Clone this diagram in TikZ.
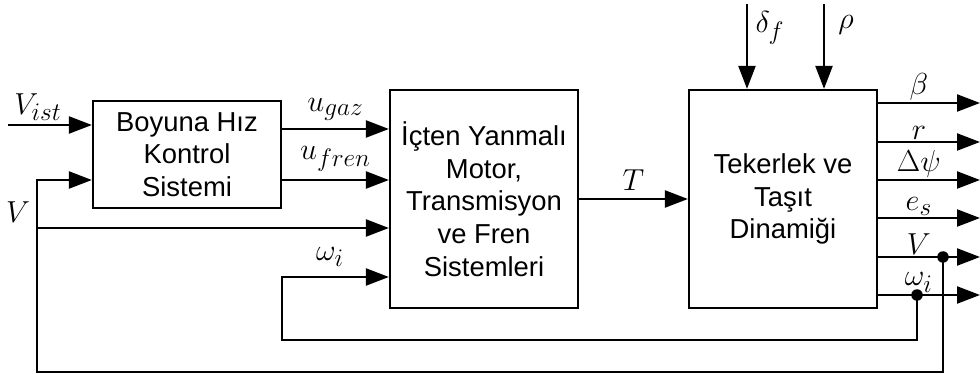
\documentclass[tikz,border=0pt]{standalone}
\usepackage{fontspec}
\setmainfont{Liberation Sans}
\usetikzlibrary{arrows.meta}

\begin{document}
\begin{tikzpicture}[x=0.02cm,y=-0.02cm,line width=1.3pt,
  b/.style={draw,minimum width=3.76cm,align=center,inner sep=0pt,font=\fontsize{15.6}{18.6}\selectfont},
  arr/.style={-{Triangle[length=0.46cm,width=0.34cm]}},
  lab/.style={font=\fontsize{19}{19}\selectfont,inner sep=1pt},
  dot/.style={circle,fill,inner sep=0pt,minimum size=0.23cm}]
\useasboundingbox (0,0) rectangle (980,374);
\node[b,minimum height=2.14cm] (ctrl) at (187,154.5) {Boyuna Hız\\Kontrol\\Sistemi};
\node[b,minimum height=4.36cm] (eng) at (484,199) {İçten Yanmalı\\Motor,\\Transmisyon\\ve Fren\\Sistemleri};
\node[b,minimum height=4.36cm] (veh) at (783,199) {Tekerlek ve\\Taşıt\\Dinamiği};
% inputs
\coordinate (vin) at (8,125);
\coordinate (din) at (747,4);
\coordinate (rin) at (824,4);
\draw[arr] (vin) -- (ctrl.west |- vin);
\node[lab] (lvist) at (38,107) {$V_{ist}$};
\draw[arr] (din) -- (veh.north -| din);
\node[lab] (ldelta) at (770,28) {$\delta_f$};
\draw[arr] (rin) -- (veh.north -| rin);
\node[lab] (lrho) at (846,25) {$\rho$};
% controller -> engine -> vehicle
\draw[arr] (ctrl.east |- 0,129) -- (eng.west |- 0,129) node[lab,midway,above=3pt] (lgaz) {$u_{gaz}$};
\draw[arr] (ctrl.east |- 0,180) -- (eng.west |- 0,180) node[lab,midway,above=3pt] (lfren) {$u_{fren}$};
\draw[arr] (eng.east) -- (veh.west) node[lab,midway,above=3pt] (lT) {$T$};
% outputs
\foreach \y/\lbl [count=\i] in {103/\beta,142/r,180/\Delta\psi,218/e_s,257/V,295/\omega_i}{
  \coordinate (o\i) at (980,\y);
  \draw[arr] (veh.east |- o\i) -- (o\i) node[lab,pos=0.4,above] (lo\i) {$\lbl$};
}
% feedback
\node[dot] (dv) at (943,257) {};
\node[dot] (dw) at (917,295) {};
\coordinate (vloop) at (37,372);
\coordinate (wloop) at (282,340);
\draw[arr] (dv.center) |- (vloop) |- (ctrl.west |- 0,180);
\draw[arr] (vloop |- 0,228) -- (eng.west |- 0,228);
\node[lab] (lv) at (18,212) {$V$};
\draw[arr] (dw.center) |- (wloop) |- (eng.west |- 0,277);
\node[lab] (lw) at (330,257) {$\omega_i$};
\end{tikzpicture}
\end{document}
